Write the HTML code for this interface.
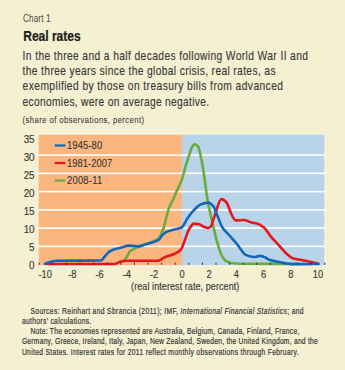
<!DOCTYPE html>
<html><head><meta charset="utf-8"><style>
html,body{margin:0;padding:0;width:345px;height:370px;overflow:hidden;background:#F5F0D1;}
svg{display:block;}
text{font-family:"Liberation Sans",sans-serif;fill:#3a3a3a;stroke:#3a3a3a;stroke-width:0.15px;}
.ft{stroke-width:0.22px;}
.lt{stroke-width:0;fill:#4a4a4a}
.ax{stroke-width:0.15px}
.sh{stroke-width:0.1px}
.hd{fill:#1c1c1c;stroke:#1c1c1c;stroke-width:0.2px}
</style></head><body>
<svg width="345" height="370" viewBox="0 0 345 370">
<rect x="0" y="0" width="345" height="370" fill="#F5F0D1"/>
<rect x="38.00" y="134.00" width="287.00" height="131.80" fill="none" stroke="#FBF8EA" stroke-width="1.2"/>
<rect x="38.6" y="134.6" width="143.4" height="130.6" fill="#FBB680"/>
<rect x="182" y="134.6" width="142.39999999999998" height="130.6" fill="#B9D4E8"/>
<rect x="38.6" y="245.55" width="285.79999999999995" height="1.6" fill="#FFFFFF"/>
<rect x="38.6" y="227.30" width="285.79999999999995" height="1.6" fill="#FFFFFF"/>
<rect x="38.6" y="209.05" width="285.79999999999995" height="1.6" fill="#FFFFFF"/>
<rect x="38.6" y="190.80" width="285.79999999999995" height="1.6" fill="#FFFFFF"/>
<rect x="38.6" y="172.55" width="285.79999999999995" height="1.6" fill="#FFFFFF"/>
<rect x="38.6" y="154.30" width="285.79999999999995" height="1.6" fill="#FFFFFF"/>
<path d="M123.80,261.50 C124.87,259.83 125.93,258.27 127.00,256.50 C128.00,254.84 129.00,252.08 130.00,251.20 C131.17,250.18 132.33,249.82 133.50,249.20 C135.17,248.31 136.83,247.40 138.50,246.70 C141.37,245.50 144.23,244.79 147.10,243.70 C150.20,242.52 153.30,241.42 156.40,239.80 C157.10,239.44 157.80,239.12 158.50,238.50 C159.97,237.20 161.43,233.76 162.90,230.00 C164.00,227.18 165.10,221.97 166.20,218.00 C167.10,214.75 168.00,210.71 168.90,208.30 C170.23,204.73 171.57,202.93 172.90,200.00 C174.13,197.29 175.37,194.15 176.60,191.40 C177.70,188.94 178.80,186.89 179.90,184.30 C180.80,182.18 181.70,180.04 182.60,177.30 C183.67,174.06 184.73,168.93 185.80,165.40 C186.97,161.54 188.13,158.48 189.30,155.00 C190.17,152.41 191.03,148.51 191.90,147.20 C192.87,145.74 193.83,144.30 194.80,144.30 C195.87,144.30 196.93,145.19 198.00,146.40 C198.83,147.34 199.67,151.52 200.50,155.00 C201.27,158.20 202.03,162.60 202.80,167.10 C203.50,171.21 204.20,176.15 204.90,181.00 C205.77,187.01 206.63,195.00 207.50,200.00 C208.07,203.27 208.63,205.65 209.20,208.30 C210.57,214.70 211.93,220.71 213.30,226.50 C214.63,232.15 215.97,238.12 217.30,242.70 C218.67,247.39 220.03,252.27 221.40,254.90 C222.73,257.47 224.07,259.74 225.40,260.60 C227.43,261.91 229.47,262.71 231.50,263.00 C234.33,263.40 237.17,263.68 240.00,263.70 C258.80,263.87 277.60,263.83 296.40,263.90" fill="none" stroke="#69AC3D" stroke-width="2.6" stroke-linejoin="round" stroke-linecap="round"/>
<path d="M47.00,264.00 C69.43,264.00 91.87,264.00 114.30,264.00 C116.23,264.00 118.17,262.32 120.10,261.80 C121.67,261.38 123.23,260.80 124.80,260.80 C135.87,260.80 146.93,260.80 158.00,260.80 C160.20,260.80 162.40,258.34 164.60,257.40 C167.77,256.05 170.93,255.46 174.10,254.00 C176.30,252.98 178.50,252.15 180.70,249.90 C182.27,248.30 183.83,242.36 185.40,238.50 C186.67,235.38 187.93,231.02 189.20,229.00 C190.77,226.50 192.33,223.60 193.90,223.60 C195.70,223.60 197.50,223.91 199.30,224.30 C200.77,224.61 202.23,226.13 203.70,226.70 C205.13,227.26 206.57,228.00 208.00,228.00 C209.03,228.00 210.07,227.33 211.10,226.30 C211.67,225.73 212.23,222.78 212.80,221.10 C213.40,219.32 214.00,217.52 214.60,215.90 C216.87,209.77 219.13,199.10 221.40,199.10 C223.07,199.10 224.73,200.56 226.40,202.20 C228.10,203.87 229.80,211.22 231.50,214.30 C232.87,216.78 234.23,220.40 235.60,220.40 C238.30,220.40 241.00,220.00 243.70,220.00 C246.40,220.00 249.10,221.87 251.80,222.50 C253.53,222.90 255.27,223.01 257.00,223.50 C259.30,224.15 261.60,225.65 263.90,227.50 C266.23,229.38 268.57,233.93 270.90,236.70 C273.43,239.71 275.97,242.13 278.50,244.90 C281.00,247.63 283.50,250.94 286.00,253.20 C288.17,255.16 290.33,257.47 292.50,258.20 C296.10,259.42 299.70,259.69 303.30,260.40 C306.40,261.01 309.50,261.47 312.60,262.20 C314.53,262.66 316.47,263.33 318.40,263.90" fill="none" stroke="#E6161F" stroke-width="2.6" stroke-linejoin="round" stroke-linecap="round"/>
<path d="M45.00,263.80 C46.67,263.20 48.33,262.41 50.00,262.00 C52.17,261.46 54.33,260.84 56.50,260.80 C71.33,260.55 86.17,260.77 101.00,260.50 C102.37,260.47 103.73,257.40 105.10,256.00 C106.83,254.22 108.57,251.95 110.30,251.00 C112.03,250.05 113.77,249.52 115.50,249.00 C117.83,248.30 120.17,247.92 122.50,247.30 C124.43,246.78 126.37,245.60 128.30,245.60 C130.23,245.60 132.17,245.85 134.10,246.00 C135.57,246.12 137.03,246.40 138.50,246.40 C140.67,246.40 142.83,245.24 145.00,244.60 C146.50,244.16 148.00,243.68 149.50,243.20 C152.33,242.30 155.17,241.94 158.00,240.40 C159.57,239.55 161.13,236.37 162.70,234.90 C163.97,233.71 165.23,232.48 166.50,231.90 C169.03,230.73 171.57,230.34 174.10,229.60 C176.60,228.87 179.10,228.73 181.60,227.50 C183.50,226.57 185.40,221.31 187.30,218.60 C189.20,215.89 191.10,213.09 193.00,211.10 C195.70,208.27 198.40,205.15 201.10,204.20 C203.47,203.37 205.83,202.60 208.20,202.60 C209.90,202.60 211.60,204.32 213.30,206.20 C214.63,207.67 215.97,212.29 217.30,215.40 C219.00,219.37 220.70,224.83 222.40,227.50 C224.77,231.22 227.13,232.91 229.50,235.60 C232.20,238.67 234.90,241.59 237.60,244.80 C240.30,248.01 243.00,253.74 245.70,254.90 C248.40,256.06 251.10,257.00 253.80,257.00 C255.83,257.00 257.87,255.90 259.90,255.90 C261.60,255.90 263.30,256.63 265.00,257.30 C266.17,257.76 267.33,259.07 268.50,259.50 C272.37,260.93 276.23,261.46 280.10,262.20 C283.97,262.94 287.83,264.10 291.70,264.10 C295.57,264.10 299.43,264.10 303.30,264.10 C308.33,264.10 313.37,263.97 318.40,263.90" fill="none" stroke="#1167BA" stroke-width="2.6" stroke-linejoin="round" stroke-linecap="round"/>
<rect x="38.70" y="262.6" width="1" height="2.2" fill="#333"/>
<rect x="52.30" y="262.6" width="1" height="2.2" fill="#333"/>
<rect x="65.90" y="262.6" width="1" height="2.2" fill="#333"/>
<rect x="79.50" y="262.6" width="1" height="2.2" fill="#333"/>
<rect x="93.10" y="262.6" width="1" height="2.2" fill="#333"/>
<rect x="106.70" y="262.6" width="1" height="2.2" fill="#333"/>
<rect x="120.30" y="262.6" width="1" height="2.2" fill="#333"/>
<rect x="133.90" y="262.6" width="1" height="2.2" fill="#333"/>
<rect x="147.50" y="262.6" width="1" height="2.2" fill="#333"/>
<rect x="161.10" y="262.6" width="1" height="2.2" fill="#333"/>
<rect x="174.70" y="262.6" width="1" height="2.2" fill="#333"/>
<rect x="188.30" y="262.6" width="1" height="2.2" fill="#333"/>
<rect x="201.90" y="262.6" width="1" height="2.2" fill="#333"/>
<rect x="215.50" y="262.6" width="1" height="2.2" fill="#333"/>
<rect x="229.10" y="262.6" width="1" height="2.2" fill="#333"/>
<rect x="242.70" y="262.6" width="1" height="2.2" fill="#333"/>
<rect x="256.30" y="262.6" width="1" height="2.2" fill="#333"/>
<rect x="269.90" y="262.6" width="1" height="2.2" fill="#333"/>
<rect x="283.50" y="262.6" width="1" height="2.2" fill="#333"/>
<rect x="297.10" y="262.6" width="1" height="2.2" fill="#333"/>
<rect x="310.70" y="262.6" width="1" height="2.2" fill="#333"/>
<rect x="324.30" y="262.6" width="1" height="2.2" fill="#333"/>
<rect x="54.7" y="144.4" width="10.7" height="2.2" fill="#1167BA"/>
<text transform="translate(67,149.4) scale(0.85,1)" x="0" y="0" font-size="11" font-weight="normal" textLength="41.29" lengthAdjust="spacing">1945-80</text>
<rect x="54.7" y="161.9" width="10.7" height="2.2" fill="#E6161F"/>
<text transform="translate(67,166.9) scale(0.85,1)" x="0" y="0" font-size="11" font-weight="normal" textLength="53.29" lengthAdjust="spacing">1981-2007</text>
<rect x="54.7" y="179.4" width="10.7" height="2.2" fill="#69AC3D"/>
<text transform="translate(67,184.4) scale(0.85,1)" x="0" y="0" font-size="11" font-weight="normal" textLength="41.29" lengthAdjust="spacing">2008-11</text>
<text transform="translate(23,21.6) scale(0.8,1)" x="0" y="0" font-size="10.2" font-weight="normal" textLength="34.38" lengthAdjust="spacing" class="lt">Chart 1</text>
<text transform="translate(23.2,40.7) scale(0.84,1)" x="0" y="0" font-size="14.4" font-weight="bold" textLength="68.45" lengthAdjust="spacing" class="hd">Real rates</text>
<text transform="translate(22.6,59.5) scale(0.86,1)" x="0" y="0" font-size="11.9" font-weight="normal" textLength="331.86" lengthAdjust="spacing">In the three and a half decades following World War II and</text>
<text transform="translate(22.6,75.0) scale(0.86,1)" x="0" y="0" font-size="11.9" font-weight="normal" textLength="294.07" lengthAdjust="spacing">the three years since the global crisis, real rates, as</text>
<text transform="translate(22.6,90.4) scale(0.86,1)" x="0" y="0" font-size="11.9" font-weight="normal" textLength="302.79" lengthAdjust="spacing">exemplified by those on treasury bills from advanced</text>
<text transform="translate(22.6,105.8) scale(0.86,1)" x="0" y="0" font-size="11.9" font-weight="normal" textLength="216.74" lengthAdjust="spacing">economies, were on average negative.</text>
<text transform="translate(22.6,123) scale(0.85,1)" x="0" y="0" font-size="9" font-weight="normal" textLength="142.94" lengthAdjust="spacing" class="sh">(share of observations, percent)</text>
<text transform="translate(34.6,269.10) scale(0.95,1)" x="0" y="0" font-size="10.4" text-anchor="end" class="ax">0</text>
<text transform="translate(34.6,251.03) scale(0.95,1)" x="0" y="0" font-size="10.4" text-anchor="end" class="ax">5</text>
<text transform="translate(34.6,232.96) scale(0.95,1)" x="0" y="0" font-size="10.4" text-anchor="end" class="ax">10</text>
<text transform="translate(34.6,214.89) scale(0.95,1)" x="0" y="0" font-size="10.4" text-anchor="end" class="ax">15</text>
<text transform="translate(34.6,196.82) scale(0.95,1)" x="0" y="0" font-size="10.4" text-anchor="end" class="ax">20</text>
<text transform="translate(34.6,178.75) scale(0.95,1)" x="0" y="0" font-size="10.4" text-anchor="end" class="ax">25</text>
<text transform="translate(34.6,160.68) scale(0.95,1)" x="0" y="0" font-size="10.4" text-anchor="end" class="ax">30</text>
<text transform="translate(34.6,142.61) scale(0.95,1)" x="0" y="0" font-size="10.4" text-anchor="end" class="ax">35</text>
<text transform="translate(45.20,277.7) scale(0.93,1)" x="0" y="0" font-size="10" text-anchor="middle" class="ax">-10</text>
<text transform="translate(72.40,277.7) scale(0.93,1)" x="0" y="0" font-size="10" text-anchor="middle" class="ax">-8</text>
<text transform="translate(99.60,277.7) scale(0.93,1)" x="0" y="0" font-size="10" text-anchor="middle" class="ax">-6</text>
<text transform="translate(126.80,277.7) scale(0.93,1)" x="0" y="0" font-size="10" text-anchor="middle" class="ax">-4</text>
<text transform="translate(154.00,277.7) scale(0.93,1)" x="0" y="0" font-size="10" text-anchor="middle" class="ax">-2</text>
<text transform="translate(182.00,277.7) scale(0.93,1)" x="0" y="0" font-size="10" text-anchor="middle" class="ax">0</text>
<text transform="translate(209.20,277.7) scale(0.93,1)" x="0" y="0" font-size="10" text-anchor="middle" class="ax">2</text>
<text transform="translate(236.40,277.7) scale(0.93,1)" x="0" y="0" font-size="10" text-anchor="middle" class="ax">4</text>
<text transform="translate(263.60,277.7) scale(0.93,1)" x="0" y="0" font-size="10" text-anchor="middle" class="ax">6</text>
<text transform="translate(290.80,277.7) scale(0.93,1)" x="0" y="0" font-size="10" text-anchor="middle" class="ax">8</text>
<text transform="translate(318.00,277.7) scale(0.93,1)" x="0" y="0" font-size="10" text-anchor="middle" class="ax">10</text>
<text transform="translate(131.1,290) scale(0.9,1)" x="0" y="0" font-size="10" font-weight="normal" textLength="120.22" lengthAdjust="spacing">(real interest rate, percent)</text>
<text transform="translate(30.5,313.5) scale(0.76,1)" x="0" y="0" font-size="8.9" textLength="359.34" lengthAdjust="spacing" class="ft">Sources: Reinhart and Sbrancia (2011); IMF, <tspan font-style="italic">International Financial Statistics</tspan>; and</text>
<text transform="translate(21.9,323.8) scale(0.76,1)" x="0" y="0" font-size="8.9" textLength="91.45" lengthAdjust="spacing" class="ft">authors’ calculations.</text>
<text transform="translate(30.5,334.0) scale(0.76,1)" x="0" y="0" font-size="8.9" textLength="353.68" lengthAdjust="spacing" class="ft">Note: The economies represented are Australia, Belgium, Canada, Finland, France,</text>
<text transform="translate(21.9,344.2) scale(0.76,1)" x="0" y="0" font-size="8.9" textLength="389.34" lengthAdjust="spacing" class="ft">Germany, Greece, Ireland, Italy, Japan, New Zealand, Sweden, the United Kingdom, and the</text>
<text transform="translate(21.9,354.7) scale(0.76,1)" x="0" y="0" font-size="8.9" textLength="364.08" lengthAdjust="spacing" class="ft">United States. Interest rates for 2011 reflect monthly observations through February.</text>
</svg>
</body></html>
